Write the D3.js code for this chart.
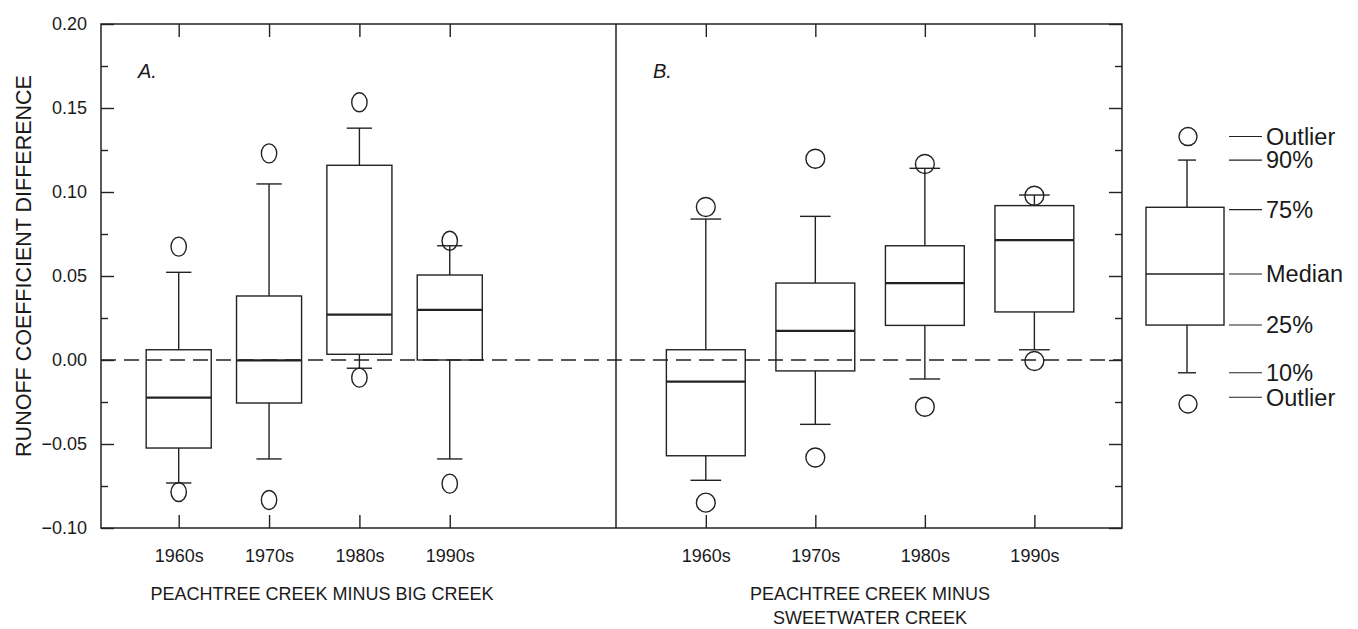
<!DOCTYPE html>
<html>
<head>
<meta charset="utf-8">
<script src="https://cdn.jsdelivr.net/npm/d3@7"></script>
<style>
  html, body { margin: 0; padding: 0; background: #fff; }
  svg { display: block; font-family: "Liberation Sans", Arial, Helvetica, sans-serif; }
  .axis path.domain { display: none; }
  .axis line { stroke: #222; stroke-width: 1.4; }
  .axis text { fill: #1a1a1a; font-size: 18px; font-family: "Liberation Sans", Arial, Helvetica, sans-serif; }
</style>
</head>
<body>
<svg id="chart" width="1358" height="629"></svg>
<script>
// ---------------- DATA ----------------
const decades = ["1960s", "1970s", "1980s", "1990s"];

// Panel A: Peachtree Creek minus Big Creek
const aP10     = [-0.0732, -0.0589, -0.0049, -0.0589];
const aQ1      = [-0.0524, -0.0256,  0.0034,  0.0000];
const aMedian  = [-0.0224, -0.0002,  0.0270,  0.0298];
const aQ3      = [ 0.0061,  0.0381,  0.1159,  0.0506];
const aP90     = [ 0.0522,  0.1048,  0.1380,  0.0680];
const aOutLow  = [-0.0786, -0.0833, -0.0105, -0.0736];
const aOutHigh = [ 0.0675,  0.1230,  0.1534,  0.0710];

// Panel B: Peachtree Creek minus Sweetwater Creek
const bP10     = [-0.0716, -0.0383, -0.0113,  0.0061];
const bQ1      = [-0.0570, -0.0065,  0.0206,  0.0286];
const bMedian  = [-0.0129,  0.0173,  0.0458,  0.0714];
const bQ3      = [ 0.0061,  0.0458,  0.0680,  0.0919];
const bP90     = [ 0.0839,  0.0855,  0.1141,  0.0982];
const bOutLow  = [-0.0849, -0.0580, -0.0278, -0.0006];
const bOutHigh = [ 0.0911,  0.1198,  0.1167,  0.0978];

// Explanation (legend) example box
const legendLabels = ["Outlier", "90%", "75%", "Median", "25%", "10%", "Outlier"];
const legendValues = [0.1330, 0.1190, 0.0909, 0.0512, 0.0208, -0.0076, -0.0262];
const legendLabelValues = [0.1330, 0.1190, 0.0895, 0.0512, 0.0208, -0.0076, -0.0222];

const yMajorTicks = [-0.10, -0.05, 0.00, 0.05, 0.10, 0.15, 0.20];
const yMinorTicks = [-0.075, -0.025, 0.025, 0.075, 0.125, 0.175];
const yTickLabels = ["\u22120.10", "\u22120.05", "0.00", "0.05", "0.10", "0.15", "0.20"];

const panelTitlesA = ["PEACHTREE CREEK MINUS BIG CREEK"];
const panelTitlesB = ["PEACHTREE CREEK MINUS", "SWEETWATER CREEK"];
const yTitle = "RUNOFF COEFFICIENT DIFFERENCE";

(function () {
// ---------------- LAYOUT ----------------
const svg = d3.select("#chart");
const pLeft = 101, pRight = 1122, pTop = 24, pBottom = 528, pMid = 616;
const ink = "#222";

const y = d3.scaleLinear().domain([-0.10, 0.20]).range([pBottom, pTop]);
const xA = d3.scaleLinear().domain([0.14, 5.84]).range([pLeft, pMid]);
const xB = d3.scaleLinear().domain([0.18, 4.80]).range([pMid, pRight]);

// zero dashed line
svg.append("line")
  .attr("x1", pLeft).attr("x2", pRight)
  .attr("y1", y(0)).attr("y2", y(0))
  .attr("stroke", ink).attr("stroke-width", 1.4)
  .attr("stroke-dasharray", "15,8");

// frame
svg.append("rect")
  .attr("x", pLeft).attr("y", pTop)
  .attr("width", pRight - pLeft).attr("height", pBottom - pTop)
  .attr("fill", "none").attr("stroke", ink).attr("stroke-width", 1.5);
svg.append("line")
  .attr("x1", pMid).attr("x2", pMid).attr("y1", pTop).attr("y2", pBottom)
  .attr("stroke", ink).attr("stroke-width", 1.5);

// y axes
svg.append("g").attr("class", "axis")
  .attr("transform", `translate(${pLeft},0)`)
  .call(d3.axisLeft(y).tickValues(yMajorTicks).tickSize(-13).tickPadding(14)
    .tickFormat((d, i) => yTickLabels[i]));
svg.append("g").attr("class", "axis")
  .attr("transform", `translate(${pLeft},0)`)
  .call(d3.axisLeft(y).tickValues(yMinorTicks).tickSize(-7).tickFormat(""));
svg.append("g").attr("class", "axis")
  .attr("transform", `translate(${pRight},0)`)
  .call(d3.axisRight(y).tickValues(yMajorTicks).tickSize(-13).tickFormat(""));
svg.append("g").attr("class", "axis")
  .attr("transform", `translate(${pRight},0)`)
  .call(d3.axisRight(y).tickValues(yMinorTicks).tickSize(-7).tickFormat(""));

// y title
svg.append("text")
  .attr("transform", `translate(31,${(pTop + pBottom) / 2 - 10}) rotate(-90)`)
  .attr("text-anchor", "middle")
  .attr("font-size", 21.5).attr("fill", "#1a1a1a")
  .text(yTitle);

function drawPanel(x, p10, q1, med, q3, p90, outLow, outHigh, letter, titles, titleX, unitRx) {
  const pos = decades.map((d, i) => i + 1);
  svg.append("g").attr("class", "axis")
    .attr("transform", `translate(0,${pTop})`)
    .call(d3.axisTop(x).tickValues(pos).tickSize(-13).tickFormat(""));
  svg.append("g").attr("class", "axis")
    .attr("transform", `translate(0,${pBottom})`)
    .call(d3.axisBottom(x).tickValues(pos).tickSize(-13).tickPadding(21)
      .tickFormat((d, i) => decades[i]));

  const bw = 0.72, cw = 0.28;
  const g = svg.append("g").attr("stroke", ink).attr("fill", "none").attr("stroke-width", 1.4);
  pos.forEach((p, i) => {
    const cx = x(p);
    const half = (x(p + bw / 2) - x(p - bw / 2)) / 2;
    const ch = (x(p + cw / 2) - x(p - cw / 2)) / 2;
    g.append("line").attr("x1", cx).attr("x2", cx).attr("y1", y(q3[i])).attr("y2", y(p90[i]));
    g.append("line").attr("x1", cx).attr("x2", cx).attr("y1", y(q1[i])).attr("y2", y(p10[i]));
    g.append("line").attr("x1", cx - ch).attr("x2", cx + ch).attr("y1", y(p90[i])).attr("y2", y(p90[i]));
    g.append("line").attr("x1", cx - ch).attr("x2", cx + ch).attr("y1", y(p10[i])).attr("y2", y(p10[i]));
    g.append("rect").attr("x", cx - half).attr("width", 2 * half)
      .attr("y", y(q3[i])).attr("height", y(q1[i]) - y(q3[i]));
    g.append("line").attr("x1", cx - half).attr("x2", cx + half)
      .attr("y1", y(med[i])).attr("y2", y(med[i])).attr("stroke-width", 2.2);
    const rx = x(p + unitRx) - cx;
    [outLow[i], outHigh[i]].forEach(v => {
      g.append("ellipse").attr("cx", cx).attr("cy", y(v)).attr("rx", rx).attr("ry", 9.5);
    });
  });

  svg.append("text")
    .attr("x", x.range()[0] + 37).attr("y", 78)
    .attr("font-size", 20).attr("font-style", "italic").attr("fill", "#1a1a1a")
    .text(letter);

  titles.forEach((t, i) => {
    svg.append("text")
      .attr("x", titleX).attr("y", 600 + i * 24)
      .attr("text-anchor", "middle").attr("font-size", 18).attr("fill", "#1a1a1a")
      .text(t);
  });
}

drawPanel(xA, aP10, aQ1, aMedian, aQ3, aP90, aOutLow, aOutHigh, "A.", panelTitlesA, 322, 0.085);
drawPanel(xB, bP10, bQ1, bMedian, bQ3, bP90, bOutLow, bOutHigh, "B.", panelTitlesB, 870, 0.086);

// ---------------- EXPLANATION BOX ----------------
const lg = svg.append("g").attr("stroke", ink).attr("fill", "none").attr("stroke-width", 1.4);
const lcx = 1187, lhalf = 39, lch = 9;
const [lOutHi, l90, l75, lMed, l25, l10, lOutLo] = legendValues;
lg.append("line").attr("x1", lcx).attr("x2", lcx).attr("y1", y(l75)).attr("y2", y(l90));
lg.append("line").attr("x1", lcx).attr("x2", lcx).attr("y1", y(l25)).attr("y2", y(l10));
lg.append("line").attr("x1", lcx - lch).attr("x2", lcx + lch).attr("y1", y(l90)).attr("y2", y(l90));
lg.append("line").attr("x1", lcx - lch).attr("x2", lcx + lch).attr("y1", y(l10)).attr("y2", y(l10));
lg.append("rect").attr("x", lcx - 41).attr("width", 2 * lhalf)
  .attr("y", y(l75)).attr("height", y(l25) - y(l75));
lg.append("line").attr("x1", lcx - 41).attr("x2", lcx - 41 + 2 * lhalf)
  .attr("y1", y(lMed)).attr("y2", y(lMed));
lg.append("circle").attr("cx", lcx + 1).attr("cy", y(lOutHi)).attr("r", 9);
lg.append("circle").attr("cx", lcx + 1).attr("cy", y(lOutLo)).attr("r", 9);

legendLabels.forEach((t, i) => {
  const yy = y(legendLabelValues[i]);
  lg.append("line").attr("x1", 1229).attr("x2", 1262).attr("y1", yy).attr("y2", yy)
    .attr("stroke-width", 1.1);
  svg.append("text").attr("x", 1266).attr("y", yy).attr("dy", "0.35em")
    .attr("font-size", 23.5).attr("fill", "#1a1a1a").text(t);
});
})();
</script>
</body>
</html>
